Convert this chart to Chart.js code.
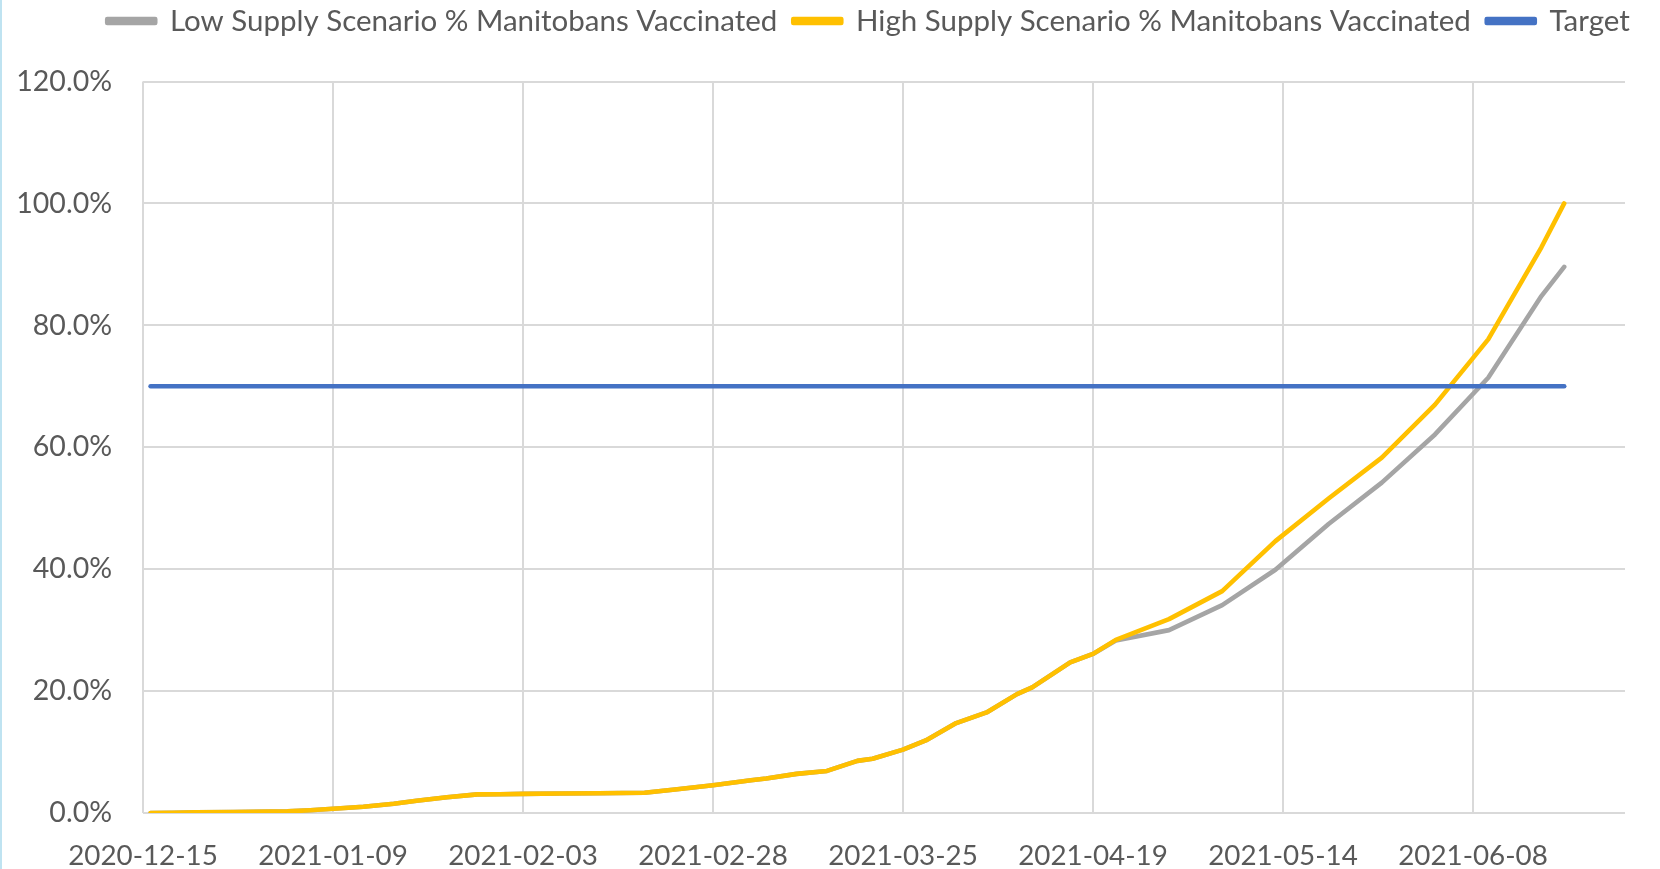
<!DOCTYPE html>
<html>
<head>
<meta charset="utf-8">
<script src="https://cdn.jsdelivr.net/npm/chart.js@4.4.1/dist/chart.umd.min.js"></script>
<style>
  html, body { margin: 0; padding: 0; background: #fff; }
  #wrap { position: relative; width: 1660px; height: 869px; }
  #edge { position: absolute; left: 0; top: 0; width: 2px; height: 869px; background: #bfe3f1; }
</style>
</head>
<body>
<div id="wrap">
  <canvas id="vaccChart"></canvas>
  <div id="edge"></div>
</div>
<script>
// dates of the data points
const dates = [
  '2020-12-16', '2020-12-19', '2020-12-22', '2020-12-27', '2021-01-03', '2021-01-06',
  '2021-01-09', '2021-01-13', '2021-01-17', '2021-01-20', '2021-01-22', '2021-01-24',
  '2021-01-28', '2021-01-31', '2021-02-03', '2021-02-08', '2021-02-13', '2021-02-19',
  '2021-02-23', '2021-02-28', '2021-03-05', '2021-03-07', '2021-03-11', '2021-03-15',
  '2021-03-19', '2021-03-21', '2021-03-25', '2021-03-28', '2021-04-01', '2021-04-05',
  '2021-04-09', '2021-04-11', '2021-04-16', '2021-04-19', '2021-04-22', '2021-04-29',
  '2021-05-06', '2021-05-13', '2021-05-20', '2021-05-27', '2021-06-03', '2021-06-10',
  '2021-06-17', '2021-06-20'
];

// % vaccinated
const lowSupply = [
  0.0, 0.05, 0.1, 0.15, 0.27, 0.45,
  0.7, 1.03, 1.52, 2.0, 2.3, 2.57,
  3.05, 3.08, 3.14, 3.2, 3.25, 3.33,
  3.85, 4.56, 5.38, 5.65, 6.42, 6.9,
  8.55, 8.9, 10.4, 11.9, 14.75, 16.5,
  19.5, 20.6, 24.7, 26.1, 28.3, 30.0,
  34.1, 39.9, 47.4, 54.2, 62.1, 71.4,
  84.8, 89.6
];
const highSupply = [
  0.0, 0.05, 0.1, 0.15, 0.27, 0.45,
  0.7, 1.03, 1.52, 2.0, 2.3, 2.57,
  3.05, 3.08, 3.14, 3.2, 3.25, 3.33,
  3.85, 4.56, 5.38, 5.65, 6.42, 6.9,
  8.55, 8.9, 10.4, 11.9, 14.75, 16.5,
  19.5, 20.6, 24.7, 26.1, 28.4, 31.8,
  36.4, 44.6, 51.6, 58.3, 67.0, 77.7,
  92.8, 100.0
];
const target = dates.map(() => 70);

// axis
const axisStart = '2020-12-15';
const axisEnd = '2021-06-28';
const tickDates = ['2020-12-15', '2021-01-09', '2021-02-03', '2021-02-28',
                   '2021-03-25', '2021-04-19', '2021-05-14', '2021-06-08'];

const dayIndex = d => (Date.parse(d) - Date.parse(axisStart)) / 86400000;
const toPoints = vals => vals.map((v, i) => ({ x: dayIndex(dates[i]), y: v }));

const fontFam = 'Lato, "Open Sans", sans-serif';
const textColor = '#595959';
const gridColor = '#d9d9d9';
const legendSize = 29.5;
const legendPad = 16;

// legend row sits a bit right of centre and high up in the reference
const moveLegend = {
  id: 'moveLegend',
  afterLayout(chart) {
    const lg = chart.legend;
    const dy = (21 - legendPad - legendSize / 2) - lg.top;
    lg.top += dy; lg.bottom += dy;
    lg.left += 56; lg.right += 56;
  }
};

const ctx = document.getElementById('vaccChart').getContext('2d');

new Chart(ctx, {
  type: 'line',
  data: {
    datasets: [
      {
        label: 'Low Supply Scenario % Manitobans Vaccinated',
        data: toPoints(lowSupply),
        borderColor: '#a5a5a5',
        backgroundColor: '#a5a5a5',
        order: 2
      },
      {
        label: 'High Supply Scenario % Manitobans Vaccinated',
        data: toPoints(highSupply),
        borderColor: '#ffc000',
        backgroundColor: '#ffc000',
        order: 1
      },
      {
        label: 'Target',
        data: toPoints(target),
        borderColor: '#4472c4',
        backgroundColor: '#4472c4',
        order: 0
      }
    ]
  },
  options: {
    responsive: true,
    maintainAspectRatio: false,
    animation: false,
    layout: { padding: { left: 0, right: 35, top: 26, bottom: 0 } },
    elements: {
      line: { borderWidth: 4.6, tension: 0, borderCapStyle: 'round', borderJoinStyle: 'round', fill: false },
      point: { radius: 0, hoverRadius: 0 }
    },
    plugins: {
      legend: {
        display: true,
        position: 'top',
        labels: {
          sort: (a, b) => a.datasetIndex - b.datasetIndex,
          boxWidth: 48,
          boxHeight: 4,
          padding: legendPad,
          color: textColor,
          font: { family: fontFam, size: legendSize }
        }
      },
      tooltip: { enabled: false }
    },
    scales: {
      x: {
        type: 'linear',
        min: 0,
        max: dayIndex(axisEnd),
        afterBuildTicks: scale => {
          scale.ticks = tickDates.map(d => ({ value: dayIndex(d) }));
        },
        afterFit: scale => { scale.height = 56; },
        ticks: {
          autoSkip: false,
          maxRotation: 0,
          padding: 26,
          color: textColor,
          font: { family: fontFam, size: 27.8 },
          callback: (v, i) => tickDates[i]
        },
        grid: { color: gridColor, lineWidth: 2, drawTicks: false },
        border: { display: false }
      },
      y: {
        min: 0,
        max: 120,
        afterFit: scale => { scale.width = 143; },
        ticks: {
          stepSize: 20,
          padding: 31,
          color: textColor,
          font: { family: fontFam, size: 28.5 },
          callback: v => v.toFixed(1) + '%'
        },
        grid: { color: gridColor, lineWidth: 2, drawTicks: false },
        border: { display: false }
      }
    }
  },
  plugins: [moveLegend]
});
</script>
</body>
</html>
